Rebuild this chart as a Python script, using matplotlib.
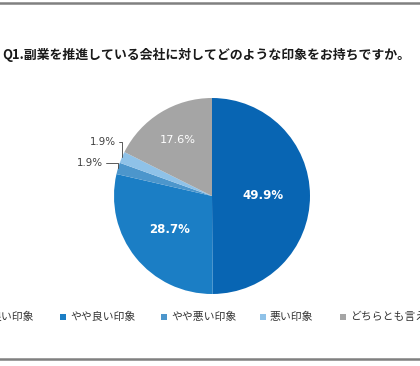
import numpy as np
import matplotlib.pyplot as plt
from matplotlib.patches import Rectangle
from matplotlib.lines import Line2D

plt.rcParams['font.family'] = ['Noto Sans CJK JP', 'DejaVu Sans']

title = 'Q1.副業を推進している会社に対してどのような印象をお持ちですか。'
labels = ['良い印象', 'やや良い印象', 'やや悪い印象', '悪い印象', 'どちらとも言えない']
values = [49.9, 28.7, 1.9, 1.9, 17.6]
colors = ['#0865B3', '#1B7EC5', '#4C96CC', '#8FC2E8', '#A5A5A5']

W, H = 420, 366
fig = plt.figure(figsize=(W / 100, H / 100), dpi=100)

# pie axes: centre (212, 196) px from top-left, radius 98 px
cx, cy, r = 212, 196, 98
ax = fig.add_axes([(cx - r) / W, (H - cy - r) / H, 2 * r / W, 2 * r / H])
wedges, _ = ax.pie(values, colors=colors, startangle=90, counterclock=False,
                   radius=1, wedgeprops=dict(linewidth=0))
ax.set_xlim(-1, 1)
ax.set_ylim(-1, 1)
ax.set_aspect('equal')
ax.axis('off')

def mid(w):
    a = np.deg2rad((w.theta1 + w.theta2) / 2)
    return np.cos(a), np.sin(a)

# inside labels
inside = {0: (0.52, 'bold', 8.5), 1: (0.55, 'bold', 8.5), 4: (0.67, 'normal', 8.2)}
for i, (d, wt, fs) in inside.items():
    x, y = mid(wedges[i])
    ax.text(x * d, y * d, f'{values[i]:.1f}%', ha='center', va='center',
            color='white', fontweight=wt, fontsize=fs, family='DejaVu Sans')

# outside labels with leader lines
outside = {2: ((90 - cx) / r, (cy - 163) / r), 3: ((103 - cx) / r, (cy - 142) / r)}
for i, (tx, ty) in outside.items():
    x, y = mid(wedges[i])
    ax.annotate(f'{values[i]:.1f}%', xy=(x, y), xytext=(tx, ty),
                ha='center', va='center', fontsize=7.4, color='#404040',
                family='DejaVu Sans', annotation_clip=False,
                arrowprops=dict(arrowstyle='-', color='#404040', lw=0.6,
                                shrinkA=0, shrinkB=0,
                                connectionstyle='angle,angleA=0,angleB=90,rad=0',
                                relpos=(1, 0.5)))

fig.text(2 / W, 1 - 55 / H, title, ha='left', va='center',
         fontsize=9.3, fontweight='bold', color='#1a1a1a')

# legend (cut off at both edges, like the source image)
text_x = [-10, 70, 171, 270, 350]
ly = 1 - 317 / H
for lab, col, tx in zip(labels, colors, text_x):
    fig.patches.append(Rectangle(((tx - 10) / W, ly - 2.6 / H), 5.5 / W, 5.5 / H,
                                 transform=fig.transFigure, color=col, lw=0))
    fig.text(tx / W, ly, lab, ha='left', va='center', fontsize=7.8, color='#333333')

# frame lines top/bottom
for yy in (3, 359):
    fig.add_artist(Line2D([0, 1], [1 - yy / H] * 2, color='#808080', lw=1.8,
                          transform=fig.transFigure))

fig.savefig('out.png', dpi=100)
